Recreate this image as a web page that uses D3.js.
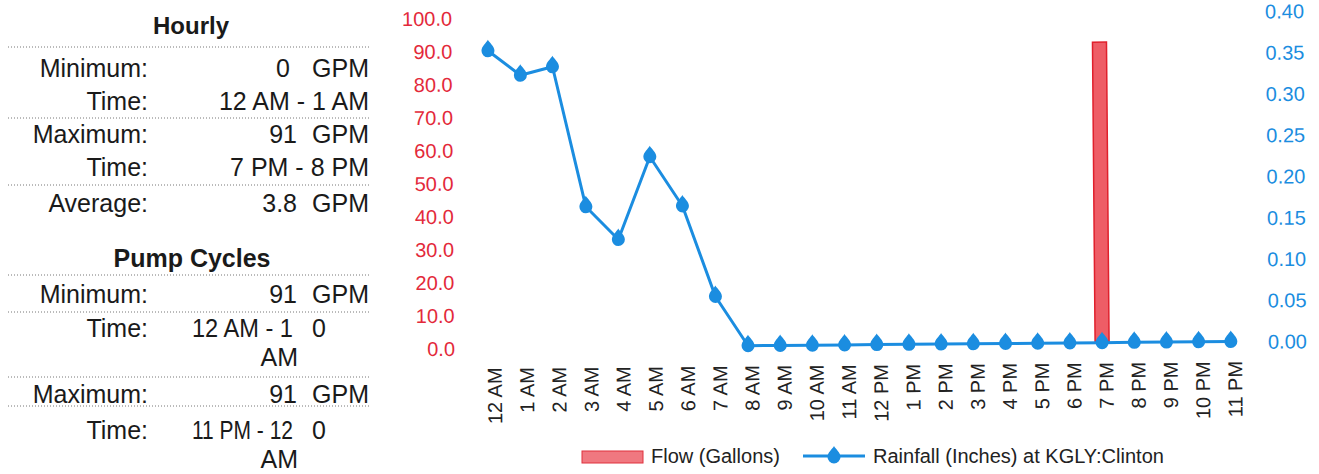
<!DOCTYPE html>
<html>
<head>
<meta charset="utf-8">
<script src="https://cdn.jsdelivr.net/npm/d3@7"></script>
<style>
  html, body { margin: 0; padding: 0; background: #fff; }
  svg { display: block; font-family: "Liberation Sans", Arial, sans-serif; }
</style>
</head>
<body>
<svg id="chart" width="1319" height="474"></svg>
<script>
// ---------- data ----------
const hours = ["12 AM","1 AM","2 AM","3 AM","4 AM","5 AM","6 AM","7 AM","8 AM","9 AM","10 AM","11 AM",
               "12 PM","1 PM","2 PM","3 PM","4 PM","5 PM","6 PM","7 PM","8 PM","9 PM","10 PM","11 PM"];
const flowGallons = [0,0,0,0,0,0,0,0,0,0,0,0,0,0,0,0,0,0,0,91,0,0,0,0];
const rainfallInches = [0.36,0.33,0.34,0.17,0.13,0.23,0.17,0.06,0,0,0,0,0,0,0,0,0,0,0,0,0,0,0,0];
const leftTicks = [0,10,20,30,40,50,60,70,80,90,100];
const rightTicks = [0,0.05,0.10,0.15,0.20,0.25,0.30,0.35,0.40];
const legendLabels = ["Flow (Gallons)", "Rainfall (Inches) at KGLY:Clinton"];

const hourlyTitle = "Hourly";
const hourlyLabels = ["Minimum:", "Time:", "Maximum:", "Time:", "Average:"];
const hourlyValues = ["0", "12 AM - 1 AM", "91", "7 PM - 8 PM", "3.8"];
const hourlyUnits  = ["GPM", "", "GPM", "", "GPM"];

const pumpTitle = "Pump Cycles";
const pumpLabels = ["Minimum:", "Time:", "Maximum:", "Time:"];
const pumpValues = ["91", "12 AM - 1", "91", "11 PM - 12"];
const pumpUnits  = ["GPM", "0", "GPM", "0"];
const pumpWrap   = ["", "AM", "", "AM"];

// ---------- drawing ----------
const svg = d3.select("#chart");
const RED = "#e3293a", BLUE = "#1b8de0";

// left stats panel
const panel = svg.append("g").attr("fill", "#1a1a1a");
const FS = 25;
function dotted(y) {
  panel.append("line").attr("x1", 8).attr("x2", 371).attr("y1", y).attr("y2", y)
    .attr("stroke", "#777").attr("stroke-width", 1).attr("stroke-dasharray", "1,2");
}
panel.append("text").attr("x", 191).attr("y", 34).attr("text-anchor", "middle")
  .attr("font-size", 24).attr("font-weight", "bold").text(hourlyTitle);
dotted(47);
const hourlyY = [77, 110, 143, 176, 212];
const hourlyValEnd = [290, 369, 297, 369, 297];
hourlyLabels.forEach((l, i) => {
  panel.append("text").attr("x", 148).attr("y", hourlyY[i]).attr("text-anchor", "end")
    .attr("font-size", FS).text(l);
  panel.append("text").attr("x", hourlyValEnd[i]).attr("y", hourlyY[i]).attr("text-anchor", "end")
    .attr("font-size", FS).text(hourlyValues[i]);
  if (hourlyUnits[i]) panel.append("text").attr("x", 369).attr("y", hourlyY[i]).attr("text-anchor", "end")
    .attr("font-size", FS).text(hourlyUnits[i]);
});
dotted(118); dotted(185);

panel.append("text").attr("x", 192).attr("y", 267).attr("text-anchor", "middle")
  .attr("font-size", 25).attr("font-weight", "bold").text(pumpTitle);
dotted(275);
const pumpY = [303, 337, 403, 439];
pumpLabels.forEach((l, i) => {
  panel.append("text").attr("x", 148).attr("y", pumpY[i]).attr("text-anchor", "end")
    .attr("font-size", FS).text(l);
  if (i % 2 === 0) {
    panel.append("text").attr("x", 297).attr("y", pumpY[i]).attr("text-anchor", "end")
      .attr("font-size", FS).text(pumpValues[i]);
    panel.append("text").attr("x", 369).attr("y", pumpY[i]).attr("text-anchor", "end")
      .attr("font-size", FS).text(pumpUnits[i]);
  } else {
    panel.append("text").attr("x", 192).attr("y", pumpY[i]).attr("font-size", FS)
      .attr("textLength", 101).attr("lengthAdjust", "spacingAndGlyphs").text(pumpValues[i]);
    panel.append("text").attr("x", 312).attr("y", pumpY[i]).attr("font-size", FS).text(pumpUnits[i]);
    panel.append("text").attr("x", 298).attr("y", pumpY[i] + 29).attr("text-anchor", "end")
      .attr("font-size", FS).text(pumpWrap[i]);
  }
});
dotted(312); dotted(377); dotted(406);

// chart (slightly rotated like the scanned original)
const g = svg.append("g").attr("transform", "rotate(-0.5, 660, 237)");
const x = d3.scaleBand().domain(hours).range([473.5, 1246]).padding(0);
const yL = d3.scaleLinear().domain([0, 100]).range([346.5, 16.3]);
const yR = d3.scaleLinear().domain([0, 0.40]).range([346.5, 16.3]);

const axL = d3.axisLeft(yL).tickValues(leftTicks).tickFormat(d3.format(".1f")).tickSize(0).tickPadding(0);
const gL = g.append("g").attr("transform", "translate(454,0)").call(axL);
gL.select(".domain").remove();
gL.selectAll("text").attr("fill", RED).attr("font-size", 20).attr("font-family", "Liberation Sans, Arial, sans-serif")
  .attr("dy", "0.35em");

const axR = d3.axisRight(yR).tickValues(rightTicks).tickFormat(d3.format(".2f")).tickSize(0).tickPadding(0);
const gR = g.append("g").attr("transform", "translate(1267,0)").call(axR);
gR.select(".domain").remove();
gR.selectAll("text").attr("fill", BLUE).attr("font-size", 20).attr("font-family", "Liberation Sans, Arial, sans-serif")
  .attr("dy", "0.35em");

const axB = d3.axisBottom(x).tickSize(0).tickPadding(0);
const gB = g.append("g").attr("transform", "translate(0,366)").call(axB);
gB.select(".domain").remove();
gB.selectAll("text")
  .attr("fill", "#222").attr("font-size", 20).attr("font-family", "Liberation Sans, Arial, sans-serif")
  .attr("text-anchor", "end").attr("dy", null).attr("y", 0)
  .attr("transform", "translate(11,0) rotate(-90)");

// bars
const bw = 14;
g.append("g").selectAll("rect").data(hours.map((h, i) => ({h, v: flowGallons[i]})).filter(d => d.v > 0))
  .join("rect")
  .attr("x", d => x(d.h) + x.bandwidth() / 2 - bw / 2)
  .attr("width", bw)
  .attr("y", d => yL(d.v))
  .attr("height", d => yL(0) - yL(d.v))
  .attr("fill", "#ee5d66").attr("stroke", "#e0202c").attr("stroke-width", 1.5);

// rainfall line
const line = d3.line().x((d, i) => x(hours[i]) + x.bandwidth() / 2).y(d => yR(d));
g.append("path").datum(rainfallInches).attr("d", line)
  .attr("fill", "none").attr("stroke", BLUE).attr("stroke-width", 3).attr("stroke-linejoin", "round");

const drop = "M0,-11 C1.5,-8 6.5,-4.5 6.5,0 A6.5,6.5 0 1 1 -6.5,0 C-6.5,-4.5 -1.5,-8 0,-11 Z";
g.append("g").selectAll("path").data(rainfallInches).join("path")
  .attr("d", drop)
  .attr("transform", (d, i) => `translate(${x(hours[i]) + x.bandwidth() / 2},${yR(d)})`)
  .attr("fill", BLUE);

// legend
const lg = svg.append("g").attr("font-size", 20).attr("fill", "#222");
lg.append("rect").attr("x", 582).attr("y", 451).attr("width", 61).attr("height", 12)
  .attr("fill", "#f07880").attr("stroke", "#e0303c").attr("stroke-width", 1);
lg.append("text").attr("x", 651).attr("y", 463).text(legendLabels[0]);
lg.append("line").attr("x1", 803).attr("x2", 865).attr("y1", 456).attr("y2", 456)
  .attr("stroke", BLUE).attr("stroke-width", 3);
lg.append("path").attr("d", drop).attr("transform", "translate(834,457)").attr("fill", BLUE);
lg.append("text").attr("x", 873).attr("y", 463).text(legendLabels[1]);
</script>
</body>
</html>
